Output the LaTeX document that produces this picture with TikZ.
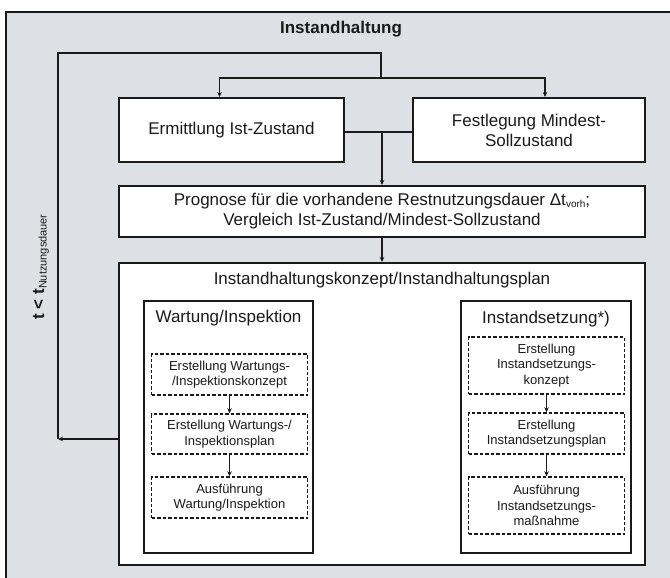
\documentclass[tikz,border=0pt]{standalone}
\usepackage{fontspec}
\setmainfont{Liberation Sans}
\usetikzlibrary{arrows.meta,positioning}
\definecolor{ink}{HTML}{1A1A1A}
\definecolor{paper}{HTML}{DDE0E5}
\tikzset{
box/.style={draw=ink,line width=2pt,fill=white,align=center,inner sep=0pt,font=\fontsize{17}{20}\selectfont,text=ink},
innerbox/.style={draw=ink,line width=1.8pt,fill=white,inner sep=0pt,minimum width=169pt,minimum height=252pt},
dashbox/.style={draw=ink,line width=1.4pt,dash pattern=on 3.5pt off 2pt,fill=white,align=center,inner sep=0pt,font=\fontsize{13}{15.5}\selectfont,text=ink,minimum width=156pt},
titel/.style={font=\fontsize{17}{20}\selectfont,text=ink,inner sep=0pt},
arr/.style={-{Stealth[length=5pt,width=4.5pt]},line width=1.6pt,draw=ink},
line/.style={line width=1.6pt,draw=ink}}

\begin{document}
\begin{tikzpicture}[x=1pt,y=-1pt]
\useasboundingbox (0,0) rectangle (670,578);
\fill[paper] (6,12) rectangle (670,578);
\draw[line width=2pt,draw=ink] (6,578) -- (6,12) -- (670,12);
\node[titel,font=\fontsize{17}{20}\selectfont\bfseries] (kopf) at (341,29) {Instandhaltung};
\node[box,minimum width=225pt,minimum height=64pt] (ermittlung) at (231.5,130) {Ermittlung Ist-Zustand};
\node[box,minimum width=232pt,minimum height=64pt] (festlegung) at (529,130) {Festlegung Mindest-\\Sollzustand};
\node[box,minimum width=526pt,minimum height=51pt] (prognose) at (382,211.5) {Prognose f\"ur die vorhandene Restnutzungsdauer Δt{\fontsize{10}{10}\selectfont\raisebox{-1.5pt}{vorh}};\\Vergleich Ist-Zustand/Mindest-Sollzustand};
\node[box,minimum width=526pt,minimum height=302pt] (konzept) at (382,414) {};
\node[titel] (konzepttitel) at (382,280) {Instandhaltungskonzept/Instandhaltungsplan};
% Wartung / Inspektion
\node[innerbox] (wartung) at (228.5,427) {};
\node[titel] (wartungtitel) at (228.5,318) {Wartung/Inspektion};
\node[dashbox,minimum height=41pt] (w1) at (229.5,374.5) {Erstellung Wartungs-\\/Inspektionskonzept};
\node[dashbox,minimum height=40pt] (w2) at (229.5,434) {Erstellung Wartungs-/\\Inspektionsplan};
\node[dashbox,minimum height=41pt] (w3) at (229.5,497.5) {Ausf\"uhrung\\Wartung/Inspektion};
% Instandsetzung
\node[innerbox,minimum width=170pt] (instandsetzung) at (546,427) {};
\node[titel] (instandsetzungtitel) at (546,319) {Instandsetzung*)};
\node[dashbox,minimum height=57pt] (i1) at (546.5,365.5) {Erstellung\\Instandsetzungs-\\konzept};
\node[dashbox,minimum height=41pt] (i2) at (546.5,433.5) {Erstellung\\Instandsetzungsplan};
\node[dashbox,minimum height=57pt] (i3) at (546.5,505.5) {Ausf\"uhrung\\Instandsetzungs-\\ma\ss nahme};
\node[titel,rotate=90] (bedingung) at (41,267) {\textbf{t < t}{\fontsize{11}{11}\selectfont\raisebox{-2.5pt}{Nutzungsdauer}}};
\coordinate (split) at (381,78);
\coordinate (oben) at (381,53);
\coordinate (zurueck) at (58,439);
\draw[arr] (split) -| ([xshift=-12pt]ermittlung.north);
\draw[arr] (split) -| ([xshift=16pt]festlegung.north);
\draw[line] (split) -- (oben) -| (zurueck);
\draw[arr] (konzept.west |- zurueck) -- (zurueck);
\draw[line] ([yshift=-2pt]ermittlung.east) -- ([yshift=-2pt]festlegung.west);
\draw[arr] ([yshift=-2pt]ermittlung.east -| prognose.north) -- (prognose.north);
\draw[arr] (prognose) -- (konzept);
\draw[arr] (w1) -- (w2);
\draw[arr] (w2) -- (w3);
\draw[arr] (i1) -- (i2);
\draw[arr] (i2) -- (i3);
\end{tikzpicture}
\end{document}
